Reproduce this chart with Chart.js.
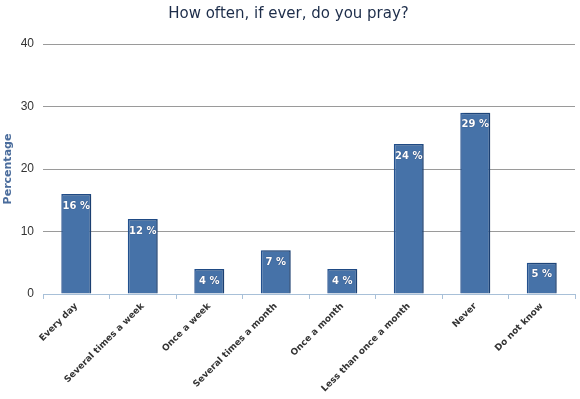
<!DOCTYPE html>
<html>
<head>
<meta charset="utf-8">
<script src="https://cdn.jsdelivr.net/npm/chart.js@4.4.0/dist/chart.umd.min.js"></script>
<style>
  html, body { margin: 0; padding: 0; background: #fff; }
  #wrap { width: 580px; height: 399px; }
</style>
</head>
<body>
<div id="wrap"><canvas id="prayChart" width="580" height="399"></canvas></div>
<script>
// Data
const categories = ['Every day', 'Several times a week', 'Once a week', 'Several times a month',
  'Once a month', 'Less than once a month', 'Never', 'Do not know'];
const percentages = [16, 12, 4, 7, 4, 24, 29, 5];
const yTicks = [0, 10, 20, 30, 40];

// soft gray halo behind the bars
const barShadow = {
  id: 'barShadow',
  beforeDatasetsDraw(chart) {
    const ctx = chart.ctx;
    ctx.save();
    ctx.shadowColor = 'rgba(0,0,0,0.22)';
    ctx.shadowBlur = 2;
    ctx.shadowOffsetX = 2;
    ctx.shadowOffsetY = -1;
  },
  afterDatasetsDraw(chart) {
    chart.ctx.restore();
  }
};

// "16 %" labels inside the bar top
const barLabels = {
  id: 'barLabels',
  afterDatasetsDraw(chart) {
    const ctx = chart.ctx;
    const meta = chart.getDatasetMeta(0);
    ctx.save();
    ctx.font = 'bold 10px "DejaVu Sans"';
    ctx.fillStyle = '#ffffff';
    ctx.textAlign = 'center';
    ctx.textBaseline = 'middle';
    ctx.shadowColor = 'rgba(0,0,40,0.6)';
    ctx.shadowBlur = 1;
    meta.data.forEach((bar, i) => {
      ctx.fillText(percentages[i] + ' %', bar.x, bar.y + 12);
    });
    ctx.restore();
  }
};

new Chart(document.getElementById('prayChart'), {
  type: 'bar',
  data: {
    labels: categories,
    datasets: [{
      data: percentages,
      backgroundColor: '#4672a8',
      borderColor: '#22508e',
      borderWidth: 1.5,
      barPercentage: 0.9,
      categoryPercentage: 0.5
    }]
  },
  options: {
    responsive: false,
    animation: false,
    layout: { padding: { left: 2, right: 5, top: 0, bottom: 0 } },
    plugins: {
      legend: { display: false },
      tooltip: { enabled: false },
      title: {
        display: true,
        text: 'How often, if ever, do you pray?',
        color: '#1d2d4a',
        font: { family: '"DejaVu Sans"', size: 15, weight: 'normal' },
        padding: { top: 5, bottom: 21 }
      }
    },
    scales: {
      x: {
        grid: {
          display: true,
          drawOnChartArea: false,
          color: '#a8c0d8',
          tickLength: 5
        },
        border: { color: '#a8c0d8', width: 1 },
        ticks: {
          color: '#333333',
          font: { family: '"DejaVu Sans"', size: 9, weight: 'bold' },
          maxRotation: 45,
          minRotation: 45,
          autoSkip: false,
          padding: 2
        },
        afterFit(scale) { scale.height = 105; }
      },
      y: {
        min: 0,
        max: 40,
        afterBuildTicks(scale) { scale.ticks = yTicks.map(v => ({ value: v })); },
        grid: { color: '#9a9a9a', drawTicks: false },
        border: { display: false },
        ticks: {
          color: '#333333',
          font: { family: '"Liberation Sans"', size: 12 },
          padding: 9
        },
        title: {
          display: true,
          text: 'Percentage',
          color: '#4a6c9c',
          font: { family: '"DejaVu Sans"', size: 11, weight: 'bold' },
          padding: { top: 0, bottom: 0 }
        },
        afterFit(scale) { scale.width = 41; }
      }
    }
  },
  plugins: [barShadow, barLabels]
});
</script>
</body>
</html>
